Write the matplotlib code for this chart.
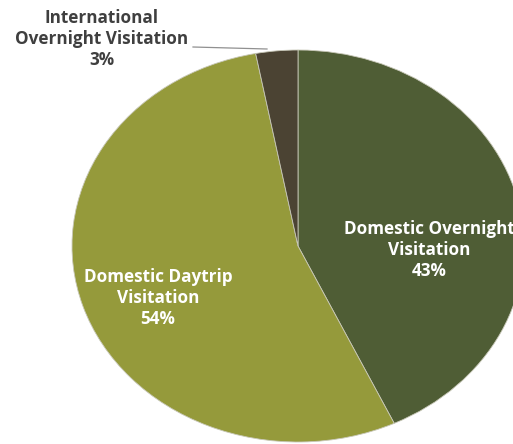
import matplotlib
matplotlib.use("Agg")
import matplotlib.pyplot as plt

categories = ["Domestic Overnight\nVisitation", "Domestic Daytrip\nVisitation", "International\nOvernight Visitation"]
values = [43, 54, 3]
colors = ["#4f5d35", "#959a3b", "#4b4333"]

W, H = 513, 444
fig = plt.figure(figsize=(W / 100, H / 100), dpi=100)
ax = fig.add_axes([0, 0, 1, 1])

ax.pie(values, colors=colors, startangle=90, counterclock=False,
       wedgeprops=dict(edgecolor="#c8c8b8", linewidth=0.6))

cx, cy, rx, ry = 298, 246, 226, 196
ax.set_aspect("auto")
ax.set_xlim(-cx / rx, (W - cx) / rx)
ax.set_ylim(-(H - cy) / ry, cy / ry)
ax.axis("off")

def px(x, y):
    return (x - cx) / rx, (cy - y) / ry

font = dict(family="Open Sans", fontweight="bold", fontsize=12.3, ha="center", va="center", linespacing=1.22)

x, y = px(429, 250)
ax.text(x, y, f"{categories[0]}\n{values[0]}%", color="white", **font)
x, y = px(158, 298)
ax.text(x, y, f"{categories[1]}\n{values[1]}%", color="white", **font)
x, y = px(102, 39)
ax.text(x, y, f"{categories[2]}\n{values[2]}%", color="#3f3f3f", clip_on=False, **font)

x0, y0 = px(193, 47)
x1, y1 = px(267, 49)
ax.plot([x0, x1], [y0, y1], color="#909090", lw=0.9, clip_on=False)

fig.savefig("out.png", dpi=100)
